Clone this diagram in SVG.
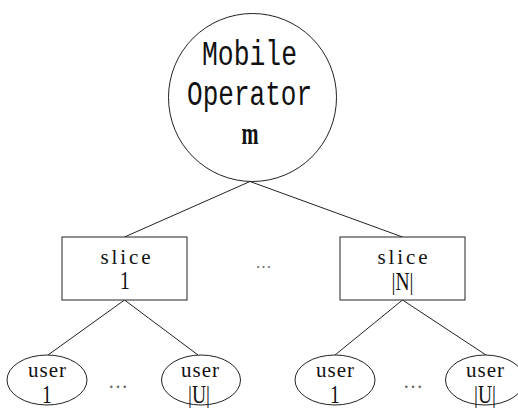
<svg xmlns="http://www.w3.org/2000/svg" width="518" height="408" viewBox="0 0 518 408">
  <style>
    .shape { fill: #ffffff; stroke: #222222; stroke-width: 1; }
    .edge { stroke: #222222; stroke-width: 1; fill: none; }
    .mono { font-family: "Liberation Mono", "DejaVu Sans Mono", monospace; font-size: 30px; fill: #111111; text-anchor: middle; }
    .serif { font-family: "Liberation Serif", "Times New Roman", serif; fill: #111111; text-anchor: middle; }
    .word { font-size: 21px; }
    .idx { font-size: 23px; }
    .dots { font-family: "Liberation Serif", serif; fill: #666666; text-anchor: middle; }
  </style>

  <!-- connectors -->
  <g id="connectors">
    <line class="edge" x1="250" y1="181.5" x2="124.5" y2="237"/>
    <line class="edge" x1="250" y1="181.5" x2="402.5" y2="237"/>
    <line class="edge" x1="124.5" y1="300" x2="48" y2="355"/>
    <line class="edge" x1="124.5" y1="300" x2="198" y2="355"/>
    <line class="edge" x1="402.5" y1="300" x2="335" y2="355"/>
    <line class="edge" x1="402.5" y1="300" x2="486" y2="355"/>
  </g>

  <!-- root: operator -->
  <g id="operator">
    <circle class="shape" cx="252.5" cy="97.5" r="84"/>
    <text class="mono" transform="translate(249.5 65) scale(1 1.18)" textLength="95" lengthAdjust="spacingAndGlyphs">Mobile</text>
    <text class="mono" transform="translate(249.5 105) scale(1 1.18)" textLength="125" lengthAdjust="spacingAndGlyphs">Operator</text>
    <text class="serif" transform="translate(250 143.5) scale(0.85 1.3)" font-size="24" font-weight="bold">m</text>
  </g>

  <!-- slices -->
  <g id="slice-1">
    <rect class="shape" x="62" y="237" width="125" height="63"/>
    <text class="serif word" x="125.5" y="263.5" textLength="50" lengthAdjust="spacing">slice</text>
    <text class="serif idx" transform="translate(125 288.5) scale(0.85 1.05)">1</text>
  </g>
  <g id="slice-N">
    <rect class="shape" x="340" y="237" width="125" height="63"/>
    <text class="serif word" x="402.5" y="263.5" textLength="50" lengthAdjust="spacing">slice</text>
    <text class="serif idx" transform="translate(402.5 290) scale(0.85 1.05)">|N|</text>
  </g>
  <text class="dots" x="263.5" y="268" font-size="16">…</text>

  <!-- users of slice 1 -->
  <g id="user-1-1">
    <ellipse class="shape" cx="47" cy="380" rx="40" ry="25"/>
    <text class="serif word" x="47" y="376.5" textLength="38" lengthAdjust="spacing">user</text>
    <text class="serif idx" transform="translate(47 403) scale(0.85 1.05)">1</text>
  </g>
  <g id="user-1-U">
    <ellipse class="shape" cx="201" cy="380" rx="39.5" ry="25"/>
    <text class="serif word" x="200" y="376.5" textLength="38" lengthAdjust="spacing">user</text>
    <text class="serif idx" transform="translate(199 403) scale(0.85 1.05)">|U|</text>
  </g>
  <text class="dots" x="118" y="388" font-size="20">…</text>

  <!-- users of slice |N| -->
  <g id="user-N-1">
    <ellipse class="shape" cx="335" cy="380" rx="40" ry="25"/>
    <text class="serif word" x="335" y="376.5" textLength="38" lengthAdjust="spacing">user</text>
    <text class="serif idx" transform="translate(335 403) scale(0.85 1.05)">1</text>
  </g>
  <g id="user-N-U">
    <ellipse class="shape" cx="485" cy="380" rx="39.5" ry="25"/>
    <text class="serif word" x="485" y="376.5" textLength="38" lengthAdjust="spacing">user</text>
    <text class="serif idx" transform="translate(485 403) scale(0.85 1.05)">|U|</text>
  </g>
  <text class="dots" x="413" y="388" font-size="20">…</text>
</svg>
